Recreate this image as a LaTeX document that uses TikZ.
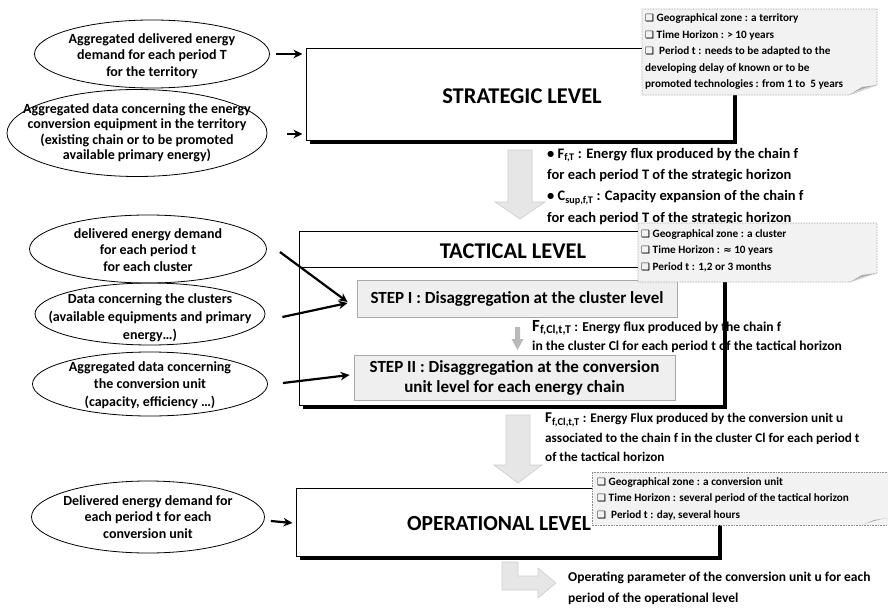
\documentclass[tikz,border=0pt]{standalone}
\usepackage{fontspec}
\setmainfont{Carlito}
\newfontfamily\symfont{DejaVu Sans}
\usetikzlibrary{shapes.geometric,arrows.meta,shadows}

\definecolor{notefill}{HTML}{F2F2F2}
\definecolor{noteline}{HTML}{8C8C8C}
\definecolor{stepfill}{HTML}{EFEFEF}
\definecolor{stepline}{HTML}{A8A8A8}
\definecolor{blockfill}{HTML}{E6E6E6}
\definecolor{blockline}{HTML}{CDCDCD}
\definecolor{foldgray}{HTML}{A9A9A9}

\newcommand{\cbx}{{\symfont\fontsize{10}{10}\selectfont ❑}}
\newcommand{\sub}[1]{\textsubscript{#1}}

\tikzset{
  inbox/.style={ellipse, draw, line width=0.8pt, inner sep=0pt},
  intext/.style={align=center, inner sep=0pt, font=\bfseries\fontsize{14}{16.3}\selectfont},
  levelbox/.style={draw, line width=1pt, fill=white,
    drop shadow={shadow xshift=3.5pt, shadow yshift=-3.5pt, opacity=1, fill=black}},
  leveltitle/.style={font=\bfseries\fontsize{22.5}{26}\selectfont, inner sep=0pt},
  stepbox/.style={draw=stepline, line width=0.9pt, fill=stepfill, align=center,
    inner sep=0pt, font=\bfseries\fontsize{17}{20}\selectfont},
  feed/.style={-{Stealth[length=9pt,width=8.5pt]}, line width=2.2pt},
  notebox/.style={draw=noteline, densely dotted, line width=0.6pt, fill=notefill},
  notetext/.style={anchor=north west, align=left, inner sep=0pt,
    font=\bfseries\fontsize{11.2}{16.5}\selectfont},
  fluxtext/.style={anchor=north west, align=left, inner sep=0pt,
    font=\bfseries\fontsize{14.5}{21.3}\selectfont},
  blockarrow/.style={fill=blockfill, draw=blockline, line width=0.6pt},
}

\begin{document}
\begin{tikzpicture}[x=1pt, y=-1pt]
\useasboundingbox (0,0) rectangle (888,610);

% ---------------- strategic level ----------------
\node[levelbox, minimum width=427pt, minimum height=91pt] (strat) at (519.5,94.5) {};
\node[leveltitle] (stratT) at (522,96) {STRATEGIC LEVEL};

\node[inbox, minimum width=235pt, minimum height=68pt] (e1) at (152,54) {};
\node[intext] (e1t) at (152,56)
  {Aggregated delivered energy\\ demand for each period T\\ for the territory};
\node[inbox, minimum width=260pt, minimum height=87pt] (e2) at (137,133) {};
\node[intext, font=\bfseries\fontsize{14}{15.5}\selectfont] (e2t) at (137,133)
  {Aggregated data concerning the energy\\ conversion equipment in the territory\\ (existing chain or to be promoted\\ available primary energy)};

\draw[feed] ([xshift=6pt]e1.east) -- ([xshift=-3pt]e1.east -| strat.west);
\draw[feed] ([xshift=20pt,yshift=-1pt]e2.east) -- ([xshift=-3pt,yshift=-1pt]e2.east -| strat.west);

% note of the strategic level
\draw[notebox] (642,9) -- (877,9) -- (877,85) -- (849,95) -- (642,95) -- cycle;
\fill[foldgray] (849,95) .. controls (858,90) and (868,87) .. (877,85) -- (862,87) -- cycle;
\node[notetext] (n1) at (645,13.5) {\cbx\ Geographical zone : a territory\\
  \cbx\ Time Horizon : > 10 years\\
  \cbx\ \ Period t : needs to be adapted to the\\
  developing delay of known or to be\\
  promoted technologies : from 1 to \ 5 years};

% flow from strategic to tactical
\path[blockarrow] (508,150) -- (532,150) -- (532,202) -- (545,202) -- (520,219)
  -- (495,202) -- (508,202) -- cycle;
\node[fluxtext] (f1) at (547,148) {• F\sub{f,T} : Energy flux produced by the chain f\\
  for each period T of the strategic horizon\\
  • C\sub{sup,f,T} : Capacity expansion of the chain f\\
  for each period T of the strategic horizon};

% ---------------- tactical level ----------------
\node[levelbox, minimum width=424pt, minimum height=174pt] (tact) at (511,318) {};
\coordinate (hdr) at (0,267);
\draw[line width=1pt] (tact.west |- hdr) -- (tact.east |- hdr);
\node[leveltitle] (tactT) at (513,251) {TACTICAL LEVEL};

\node[stepbox, minimum width=320pt, minimum height=37pt] (s1) at (517,298.5)
  {STEP I : Disaggregation at the cluster level};
\node[stepbox, minimum width=321pt, minimum height=45pt] (s2) at (514.5,377.5)
  {STEP II : Disaggregation at the conversion\\ unit level for each energy chain};

% small arrow between the two steps
\fill[foldgray!80] (515,327) -- (520,327) -- (520,339) -- (523.5,339) -- (517.5,350)
  -- (511.5,339) -- (515,339) -- cycle;
\node[anchor=north west, align=left, inner sep=0pt, font=\bfseries\fontsize{13.6}{19.5}\selectfont]
  (f2) at (532,320) {{\fontsize{17}{19.5}\selectfont F\sub{f,Cl,t,T}} : Energy flux produced by the chain f\\
  in the cluster Cl for each period t of the tactical horizon};

\node[inbox, minimum width=237pt, minimum height=68pt] (e3) at (148,249) {};
\node[intext] (e3t) at (148,250) {delivered energy demand\\ for each period t\\ for each cluster};
\node[inbox, minimum width=230pt, minimum height=62pt] (e4) at (150,314) {};
\node[intext, font=\bfseries\fontsize{14}{18}\selectfont] (e4t) at (150,318)
  {Data concerning the clusters\\ (available equipments and primary\\ energy…)};
\node[inbox, minimum width=235pt, minimum height=64pt] (e5) at (150,384) {};
\node[intext, font=\bfseries\fontsize{14}{17.5}\selectfont] (e5t) at (150,385)
  {Aggregated data concerning\\ the conversion unit\\ (capacity, efficiency …)};

\draw[feed] ([shift={(13pt,-3pt)}]e3.east) -- ([shift={(-9pt,-3.5pt)}]s1.west);
\draw[feed] ([shift={(17pt,-3pt)}]e4.east) -- ([shift={(-9pt,-4.5pt)}]s1.west);
\draw[feed] ([shift={(15pt,1pt)}]e5.east) -- ([shift={(-4pt,2.5pt)}]s2.west);

% note of the tactical level
\draw[notebox] (638,223) -- (877,223) -- (877,273) -- (850,282) -- (638,282) -- cycle;
\fill[foldgray] (850,282) .. controls (858,278) and (868,275) .. (877,273) -- (862,275) -- cycle;
\node[notetext] (n2) at (641,229) {\cbx\ Geographical zone : a cluster\\
  \cbx\ Time Horizon : {\symfont\fontsize{10}{10}\selectfont ≈} 10 years\\
  \cbx\ Period t : 1,2 or 3 months};

% flow from tactical to operational
\path[blockarrow] (506,415) -- (530,415) -- (530,465) -- (542,465) -- (518,483)
  -- (494,465) -- (506,465) -- cycle;
\node[fluxtext, font=\bfseries\fontsize{13.2}{19.5}\selectfont] (f3) at (545,413)
  {{\fontsize{15}{19.5}\selectfont F\sub{f,Cl,t,T}} : Energy Flux produced by the conversion unit u\\
  associated to the chain f in the cluster Cl for each period t\\
  of the tactical horizon};

% ---------------- operational level ----------------
\node[levelbox, minimum width=422pt, minimum height=68pt] (oper) at (507,522) {};
\node[leveltitle, font=\bfseries\fontsize{21.5}{26}\selectfont] (operT) at (499,524) {OPERATIONAL LEVEL};

\node[inbox, minimum width=233pt, minimum height=72pt] (e6) at (148,517) {};
\node[intext] (e6t) at (148,517) {Delivered energy demand for\\ each period t for each\\ conversion unit};
\draw[feed] ([shift={(6pt,-4pt)}]e6.east) -- ([shift={(-3pt,-1pt)}]oper.west);

% note of the operational level
\draw[notebox] (592,472) -- (892,472) -- (892,525) -- (592,525) -- cycle;
\fill[foldgray] (862,525) .. controls (870,522) and (880,519) .. (888,518) -- (874,520) -- cycle;
\node[notetext] (n3) at (597,477) {\cbx\ Geographical zone : a conversion unit\\
  \cbx\ Time Horizon : several period of the tactical horizon\\
  \cbx\ \ Period t : day, several hours};

% result of the operational level
\path[blockarrow] (502,562) -- (518,562) -- (518,576) -- (538,576) -- (538,568)
  -- (556,583) -- (538,598) -- (538,590) -- (502,590) -- cycle;
\node[anchor=north west, align=left, inner sep=0pt, font=\bfseries\fontsize{13.5}{20.5}\selectfont]
  (res) at (568,572) {Operating parameter of the conversion unit u for each\\
  period of the operational level};
\end{tikzpicture}
\end{document}
